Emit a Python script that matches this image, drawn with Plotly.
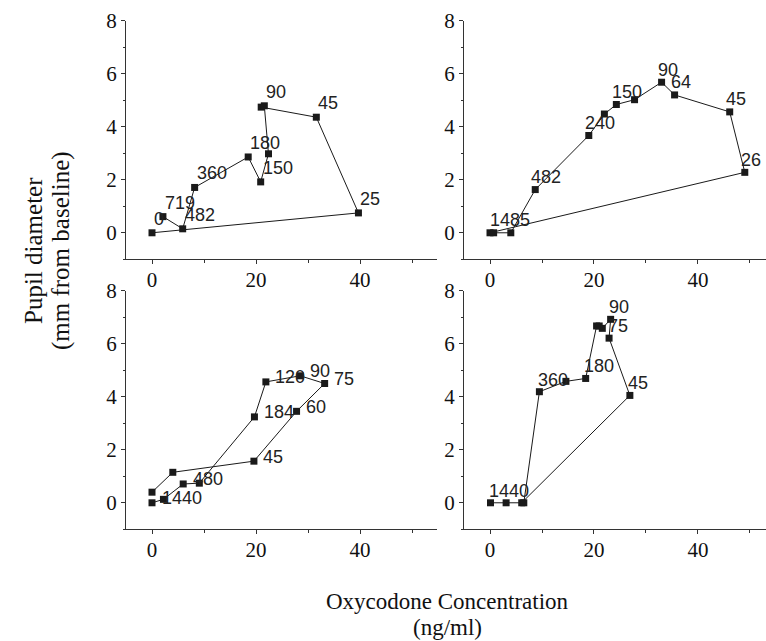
import plotly.graph_objects as go

# ---- data (concentration ng/ml, pupil diameter mm from baseline, time labels) ----
p1_x = [0.0, 39.7, 31.6, 21.0, 21.6, 22.4, 20.9, 18.5, 8.2, 5.9, 2.1]
p1_y = [0.0, 0.75, 4.36, 4.74, 4.79, 2.98, 1.92, 2.86, 1.71, 0.15, 0.61]
p1_lbl = ["0", "25", "45", "", "90", "", "150", "180", "360", "482", "719"]

p2_x = [0.0, 49.0, 46.1, 35.5, 33.0, 27.8, 24.3, 22.0, 19.0, 8.7, 4.0, 0.7]
p2_y = [0.0, 2.28, 4.56, 5.20, 5.68, 5.02, 4.84, 4.48, 3.67, 1.63, 0.0, 0.0]
p2_lbl = ["", "26", "45", "64", "90", "", "150", "", "240", "482", "", "1485"]

p3_x = [0.0, 4.0, 19.6, 27.8, 33.2, 28.5, 21.9, 19.7, 9.1, 6.0, 2.2, 0.0]
p3_y = [0.40, 1.15, 1.57, 3.45, 4.50, 4.79, 4.56, 3.24, 0.74, 0.71, 0.13, 0.0]
p3_lbl = ["", "", "45", "60", "75", "90", "120", "184", "", "480", "", "1440"]

p4_x = [6.1, 26.9, 22.9, 23.2, 21.6, 21.0, 20.5, 18.4, 14.6, 9.5, 6.5, 3.1, 0.1]
p4_y = [0.0, 4.05, 6.21, 6.92, 6.58, 6.67, 6.67, 4.69, 4.58, 4.19, 0.0, 0.0, 0.0]
p4_lbl = ["", "45", "75", "90", "", "", "", "180", "", "360", "", "", "1440"]

x_ticks = [0, 20, 40]
y_ticks = [0, 2, 4, 6, 8]

W, H = 766, 641
panels = [
    (p1_x, p1_y, p1_lbl, 0.0, 14.0),
    (p2_x, p2_y, p2_lbl, -6.0, 12.5),
    (p3_x, p3_y, p3_lbl, 7.5, 4.5),
    (p4_x, p4_y, p4_lbl, -3.5, 12.0),
]

# pixel geometry of the panels
xdom = [[126 / W, 436.7 / W], [464 / W, 1.0]]
xrng = [[-5, 54.75], [-5, 53.08]]
ydom = [[(H - 259.3) / H, (H - 20.7) / H], [(H - 529.3) / H, (H - 290.7) / H]]

serif = "Liberation Serif"
sans = "Liberation Sans"

fig = go.Figure()
annotations = []
layout_axes = {}

for i, (xs, ys, lbls, xsh, ysh) in enumerate(panels):
    n = i + 1
    col = i % 2
    row = i // 2
    fig.add_trace(go.Scatter(
        x=xs, y=ys, mode="lines+markers",
        line=dict(color="#1a1a1a", width=1),
        marker=dict(symbol="square", size=7, color="#1a1a1a"),
        xaxis=f"x{n}", yaxis=f"y{n}", showlegend=False, cliponaxis=False,
    ))
    for x, y, t in zip(xs, ys, lbls):
        if t:
            annotations.append(dict(
                x=x, y=y, xref=f"x{n}", yref=f"y{n}", text=t, showarrow=False,
                xanchor="left", yanchor="middle", xshift=xsh, yshift=ysh,
                font=dict(family=sans, size=18, color="#222222"),
            ))
    xkey = "xaxis" if n == 1 else f"xaxis{n}"
    ykey = "yaxis" if n == 1 else f"yaxis{n}"
    layout_axes[xkey] = dict(
        domain=xdom[col], range=xrng[col], anchor=f"y{n}",
        tickmode="array", tickvals=x_ticks, ticktext=[str(v) for v in x_ticks],
        showline=True, linecolor="#333333", linewidth=1, showgrid=False,
        zeroline=False, ticks="outside", ticklen=4, tickwidth=1, tickcolor="#333333",
        fixedrange=True, automargin=False, ticklabelstandoff=-3,
        tickfont=dict(family=serif, size=21, color="#111111"),
        minor=dict(dtick=10, tick0=0, ticks="outside", ticklen=2.5, tickcolor="#333333"),
    )
    layout_axes[ykey] = dict(
        domain=ydom[row], range=[-1, 8], anchor=f"x{n}",
        tickmode="array", tickvals=y_ticks, ticktext=[str(v) for v in y_ticks],
        showline=True, linecolor="#333333", linewidth=1, showgrid=False,
        zeroline=False, ticks="outside", ticklen=4, tickwidth=1, tickcolor="#333333",
        fixedrange=True, automargin=False,
        tickfont=dict(family=serif, size=21, color="#111111"),
        minor=dict(dtick=1, tick0=0, ticks="outside", ticklen=2.5, tickcolor="#333333"),
    )

# axis titles
annotations += [
    dict(x=34 / W, y=(H - 251) / H, xref="paper", yref="paper", text="Pupil diameter",
         textangle=-90, showarrow=False, xanchor="center", yanchor="middle",
         font=dict(family=serif, size=25, color="#111111")),
    dict(x=61 / W, y=(H - 251) / H, xref="paper", yref="paper", text="(mm from baseline)",
         textangle=-90, showarrow=False, xanchor="center", yanchor="middle",
         font=dict(family=serif, size=25, color="#111111")),
    dict(x=447 / W, y=(H - 601) / H, xref="paper", yref="paper",
         text="Oxycodone Concentration", showarrow=False, xanchor="center",
         yanchor="middle", font=dict(family=serif, size=23, color="#111111")),
    dict(x=447 / W, y=(H - 627) / H, xref="paper", yref="paper", text="(ng/ml)",
         showarrow=False, xanchor="center", yanchor="middle",
         font=dict(family=serif, size=23, color="#111111")),
]

fig.update_layout(
    width=W, height=H, margin=dict(l=0, r=0, t=0, b=0, pad=0),
    paper_bgcolor="white", plot_bgcolor="white",
    font=dict(family=serif, size=21, color="#111111"),
    annotations=annotations, showlegend=False,
    **layout_axes,
)

fig.write_html(
    "out.html",
    config={"displayModeBar": False},
    post_script="document.body.style.margin='0';document.body.style.padding='0';"
                "document.body.style.overflow='hidden';",
)
